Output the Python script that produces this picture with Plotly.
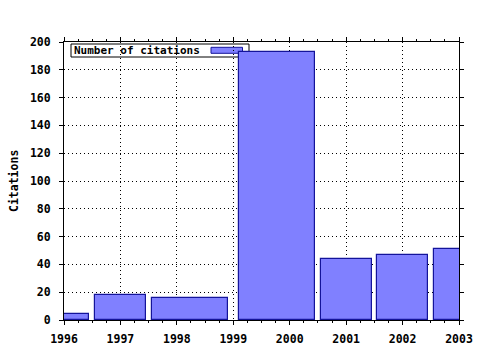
import plotly.graph_objects as go

# Data
bar_x = [1996, 1997, 1998.24, 1999.78, 2001, 2002, 2003]
bar_width = [0.9, 0.9, 1.35, 1.35, 0.9, 0.9, 0.9]
citations = [4, 18, 16, 193, 44, 47, 51]
year_ticks = [1996, 1997, 1998, 1999, 2000, 2001, 2002, 2003]
y_ticks = [0, 20, 40, 60, 80, 100, 120, 140, 160, 180, 200]
series_name = "Number of citations"
y_title = "Citations"

FILL = "#8080ff"
EDGE = "#14149a"
FONT = dict(family="DejaVu Sans Mono", size=11, color="black")

W, H = 480, 350
L, R, T, B = 64, 21, 42, 30
pw, ph = W - L - R, H - T - B


def px2paper(x, y):
    return (x - L) / pw, (H - B - y) / ph


fig = go.Figure()
fig.add_trace(go.Bar(
    x=bar_x, y=citations, width=bar_width, name=series_name,
    marker=dict(color=FILL, line=dict(color=EDGE, width=1.2)),
    showlegend=False,
))

bold = dict(family="DejaVu Sans Mono", size=11.5, color="black", weight="bold")
bold_small = dict(family="DejaVu Sans Mono", size=11, color="black", weight="bold")

axis_common = dict(
    showline=True, linecolor="black", linewidth=1, mirror="allticks",
    ticks="outside", ticklen=4, tickcolor="black", tickwidth=1,
    showgrid=True, gridcolor="black", griddash="1px,3px", gridwidth=1,
    zeroline=False, tickfont=bold,
)

fig.update_xaxes(range=[1996, 2003], tickvals=year_ticks,
                 ticktext=[str(v) for v in year_ticks],
                 minor=dict(dtick=0.25, tick0=1996, ticks="outside", ticklen=2, tickcolor="black", showgrid=False),
                 ticklabelstandoff=4, **axis_common)
fig.update_yaxes(range=[0, 200], tickvals=y_ticks, ticklabelstandoff=6, **axis_common)

# Legend box (gnuplot style: text then sample)
x0, y0 = px2paper(71, 44)
x1, y1 = px2paper(249, 57)
fig.add_shape(type="rect", xref="paper", yref="paper", x0=x0, y0=y1, x1=x1, y1=y0,
              line=dict(color="black", width=1), fillcolor="white", layer="between")
sx0, sy0 = px2paper(211, 47.3)
sx1, sy1 = px2paper(242.5, 53.3)
fig.add_shape(type="rect", xref="paper", yref="paper", x0=sx0, y0=sy1, x1=sx1, y1=sy0,
              line=dict(color=EDGE, width=1), fillcolor=FILL, layer="between")
tx, ty = px2paper(72, 50.5)
fig.add_annotation(text=series_name, xref="paper", yref="paper", x=tx, y=ty,
                   xanchor="left", yanchor="middle", showarrow=False, font=bold_small)

# Y axis title
ax, ay = px2paper(14, 181)
fig.add_annotation(text=y_title, xref="paper", yref="paper", x=ax, y=ay,
                   xanchor="center", yanchor="middle", textangle=-90, showarrow=False,
                   font=bold)

fig.update_layout(
    width=W, height=H, margin=dict(l=L, r=R, t=T, b=B, autoexpand=False),
    plot_bgcolor="white", paper_bgcolor="white", font=FONT, bargap=0,
)

fig.write_html("out.html")
